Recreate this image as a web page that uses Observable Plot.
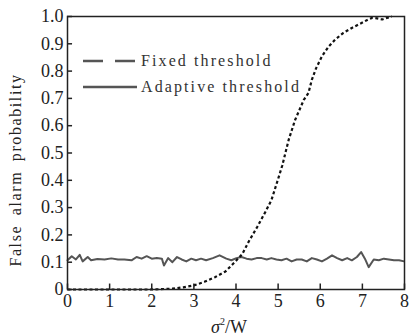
<!DOCTYPE html>
<html>
<head>
<meta charset="utf-8">
<script src="https://cdn.jsdelivr.net/npm/d3@7"></script>
<script src="https://cdn.jsdelivr.net/npm/@observablehq/plot@0.6"></script>
<style>
  html, body { margin: 0; padding: 0; background: #fff; }
  #chart { width: 409px; height: 336px; }
</style>
</head>
<body>
<div id="chart"></div>
<script>
// ---- data ----
const fixedX = [0, 0.5, 1, 1.5, 2, 2.5, 2.75, 3, 3.25, 3.5, 3.75, 4, 4.15, 4.3, 4.5, 4.7, 4.84, 5, 5.1, 5.25, 5.4, 5.61, 5.72, 5.8, 5.9, 6.04, 6.2, 6.35, 6.55, 6.75, 6.99, 7.15, 7.23, 7.35, 7.47, 7.58, 7.7];
const fixedY = [0, 0, 0, 0, 0, 0.003, 0.008, 0.015, 0.028, 0.045, 0.066, 0.105, 0.13, 0.175, 0.228, 0.285, 0.327, 0.405, 0.455, 0.548, 0.62, 0.695, 0.72, 0.768, 0.81, 0.854, 0.89, 0.915, 0.94, 0.958, 0.977, 0.99, 0.995, 0.993, 0.989, 0.995, 1.0];

const adaptX = [0.0, 0.1, 0.2, 0.29, 0.36, 0.48, 0.56, 0.71, 0.88, 1.04, 1.2, 1.35, 1.52, 1.64, 1.76, 1.88, 2.0, 2.12, 2.24, 2.29, 2.39, 2.49, 2.6, 2.71, 2.82, 2.94, 3.05, 3.17, 3.29, 3.45, 3.61, 3.77, 3.89, 4.01, 4.13, 4.25, 4.37, 4.49, 4.61, 4.73, 4.84, 4.96, 5.08, 5.2, 5.32, 5.44, 5.56, 5.68, 5.8, 5.92, 6.04, 6.16, 6.28, 6.4, 6.52, 6.64, 6.75, 6.87, 6.97, 7.06, 7.15, 7.27, 7.39, 7.51, 7.63, 7.75, 7.87, 7.99];
const adaptY = [0.107, 0.122, 0.110, 0.127, 0.103, 0.119, 0.107, 0.112, 0.110, 0.114, 0.110, 0.110, 0.107, 0.119, 0.113, 0.122, 0.113, 0.115, 0.113, 0.088, 0.115, 0.100, 0.119, 0.110, 0.103, 0.113, 0.107, 0.113, 0.107, 0.115, 0.125, 0.113, 0.107, 0.115, 0.119, 0.113, 0.110, 0.115, 0.115, 0.110, 0.115, 0.110, 0.107, 0.113, 0.103, 0.110, 0.110, 0.103, 0.115, 0.110, 0.103, 0.113, 0.125, 0.115, 0.107, 0.115, 0.107, 0.119, 0.137, 0.113, 0.082, 0.110, 0.107, 0.113, 0.110, 0.107, 0.107, 0.103];

const xTicks = [0, 1, 2, 3, 4, 5, 6, 7, 8];
const xTickLabels = ["0", "1", "2", "3", "4", "5", "6", "7", "8"];
const yTicks = [0, 0.1, 0.2, 0.3, 0.4, 0.5, 0.6, 0.7, 0.8, 0.9, 1.0];
const yTickLabels = ["0", "0.1", "0.2", "0.3", "0.4", "0.5", "0.6", "0.7", "0.8", "0.9", "1.0"];

const seriesNames = ["Fixed threshold", "Adaptive threshold"];
const yAxisTitle = "False alarm probability";

// ---- build tables ----
const fixed = fixedX.map((x, i) => ({x, y: fixedY[i]}));
const adaptive = adaptX.map((x, i) => ({x, y: adaptY[i]}));

const font = "'Liberation Serif', 'DejaVu Serif', serif";

const chart = Plot.plot({
  width: 409,
  height: 336,
  marginLeft: 67,
  marginRight: 5,
  marginTop: 16,
  marginBottom: 47,
  style: {fontFamily: font, fontSize: "18px", color: "#222", background: "#fff", overflow: "visible"},
  x: {domain: [0, 8]},
  y: {domain: [0, 1]},
  marks: [
    Plot.line(adaptive, {x: "x", y: "y", stroke: "#555", strokeWidth: 2, curve: "linear"}),
    Plot.line(fixed, {x: "x", y: "y", stroke: "#111", strokeWidth: 2.2, strokeDasharray: "3,2.5", strokeLinecap: "butt", curve: "linear"}),
    Plot.frame({stroke: "#222", strokeWidth: 1.5}),
    Plot.axisX({ticks: xTicks, tickSize: 0, tickPadding: 5, tickFormat: d => xTickLabels[xTicks.indexOf(d)], label: null, fill: "#222"}),
    Plot.axisY({ticks: yTicks, tickSize: 0, tickPadding: 4, tickFormat: d => yTickLabels[yTicks.findIndex(t => Math.abs(t - d) < 1e-9)], label: null, fill: "#222"}),
    Plot.ruleX(xTicks, {x: d => d, y1: 0, y2: 0.02, stroke: "#222", strokeWidth: 1.5}),
    Plot.ruleY(yTicks, {y: d => d, x1: 0, x2: 0.12, stroke: "#222", strokeWidth: 1.5})
  ]
});

document.getElementById("chart").appendChild(chart);

const svg = d3.select(chart);

// y-axis title
svg.append("text")
  .attr("transform", "translate(21,170) rotate(-90)")
  .attr("text-anchor", "middle")
  .style("font-family", font)
  .attr("font-size", 16)
  .attr("letter-spacing", "1.6px")
  .attr("word-spacing", "4px")
  .attr("fill", "#222")
  .text(yAxisTitle);

// x-axis title: σ²/W
const xt = svg.append("text")
  .attr("x", 229)
  .attr("y", 333)
  .attr("text-anchor", "middle")
  .style("font-family", font)
  .attr("font-size", 18)
  .attr("fill", "#222");
xt.append("tspan").attr("font-style", "italic").text("σ");
xt.append("tspan").attr("font-size", 10).attr("dy", -8).text("2");
xt.append("tspan").attr("dy", 8).text("/W");

// legend
const legend = svg.append("g").style("font-family", font).attr("font-size", 16).attr("fill", "#333");
const legendRows = [
  {name: seriesNames[0], dash: "20,12", y: 61},
  {name: seriesNames[1], dash: null, y: 87}
];
legendRows.forEach(r => {
  legend.append("line")
    .attr("x1", 83).attr("x2", 137).attr("y1", r.y).attr("y2", r.y)
    .attr("stroke", "#555").attr("stroke-width", 2.5)
    .attr("stroke-dasharray", r.dash);
  legend.append("text")
    .attr("x", 141).attr("y", r.y + 5)
    .attr("text-anchor", "start")
    .attr("letter-spacing", "2.1px")
    .text(r.name);
});
</script>
</body>
</html>
